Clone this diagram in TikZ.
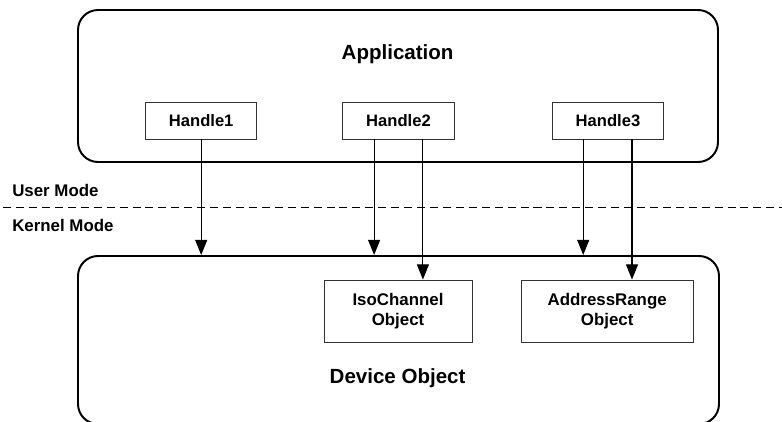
\documentclass[tikz,border=0pt]{standalone}
\usepackage{fontspec}
\setmainfont{Liberation Sans}
\usepackage{tikz}
\usetikzlibrary{positioning,arrows.meta,calc}
\tikzset{
  layer/.style={draw=black, line width=1.4pt, rounded corners=5mm},
  hnd/.style  ={draw=black!80, line width=0.6pt, minimum width=2.78cm, minimum height=0.925cm, inner sep=1pt, font=\fontsize{11.8}{14}\selectfont\bfseries},
  obj/.style  ={draw=black!80, line width=0.6pt, minimum height=1.55cm, inner sep=1pt, align=center, font=\fontsize{12}{14.6}\selectfont\bfseries},
  ttl/.style  ={inner sep=0pt, font=\fontsize{14.6}{17}\selectfont\bfseries},
  mode/.style ={inner sep=0pt, anchor=west, font=\fontsize{12}{14}\selectfont\bfseries},
  edge/.style ={-{Triangle[length=3.8mm, width=3mm]}, line width=0.8pt},
  sep/.style  ={dash pattern=on 5.7pt off 3.5pt, line width=0.7pt},
}

\begin{document}
\begin{tikzpicture}
        \useasboundingbox (0,0) rectangle (19.55,10.525);
        % user side
        \node[layer, minimum width=16cm, minimum height=3.8cm] (app) at (9.95,8.375) {};
        \node[ttl]  (apptxt) at (9.94,9.175) {Application};
        \node[hnd]  (H1) at (5.03,7.5125)   {Handle1};
        \node[hnd]  (H2) at (9.9625,7.5125) {Handle2};
        \node[hnd]  (H3) at (15.2,7.5125)   {Handle3};
        % mode boundary
        \coordinate (sepL) at (0.08,5.35);
        \coordinate (sepR) at (19.55,5.35);
        \draw[sep] (sepL) -- (sepR);
        \node[mode] (um) at (0.3,5.775) {User Mode};
        \node[mode] (km) at (0.3,4.89)  {Kernel Mode};
        % kernel side
        \node[layer, minimum width=16.025cm, minimum height=4.2cm] (dev) at (9.9625,2.025) {};
        \node[obj, minimum width=3.7cm] (iso)  at (9.95,2.75)  {IsoChannel\\Object};
        \node[obj, minimum width=4.3cm] (addr) at (15.18,2.75) {AddressRange\\Object};
        \node[ttl]  (devtxt) at (9.94,1.075) {Device Object};
        % handle references
        \draw[edge] (H1.south) -- (H1.south |- dev.north);
        \draw[edge] ([xshift=-6.1mm]H2.south) -- ([xshift=-6.1mm]H2.south |- dev.north);
        \draw[edge] ([xshift=6.1mm]H2.south) -- ([xshift=6.1mm]H2.south |- iso.north);
        \draw[edge] ([xshift=-6.2mm]H3.south) -- ([xshift=-6.2mm]H3.south |- dev.north);
        \draw[edge] ([xshift=6mm]H3.south) -- ([xshift=6mm]H3.south |- addr.north);
      \end{tikzpicture}
\end{document}
